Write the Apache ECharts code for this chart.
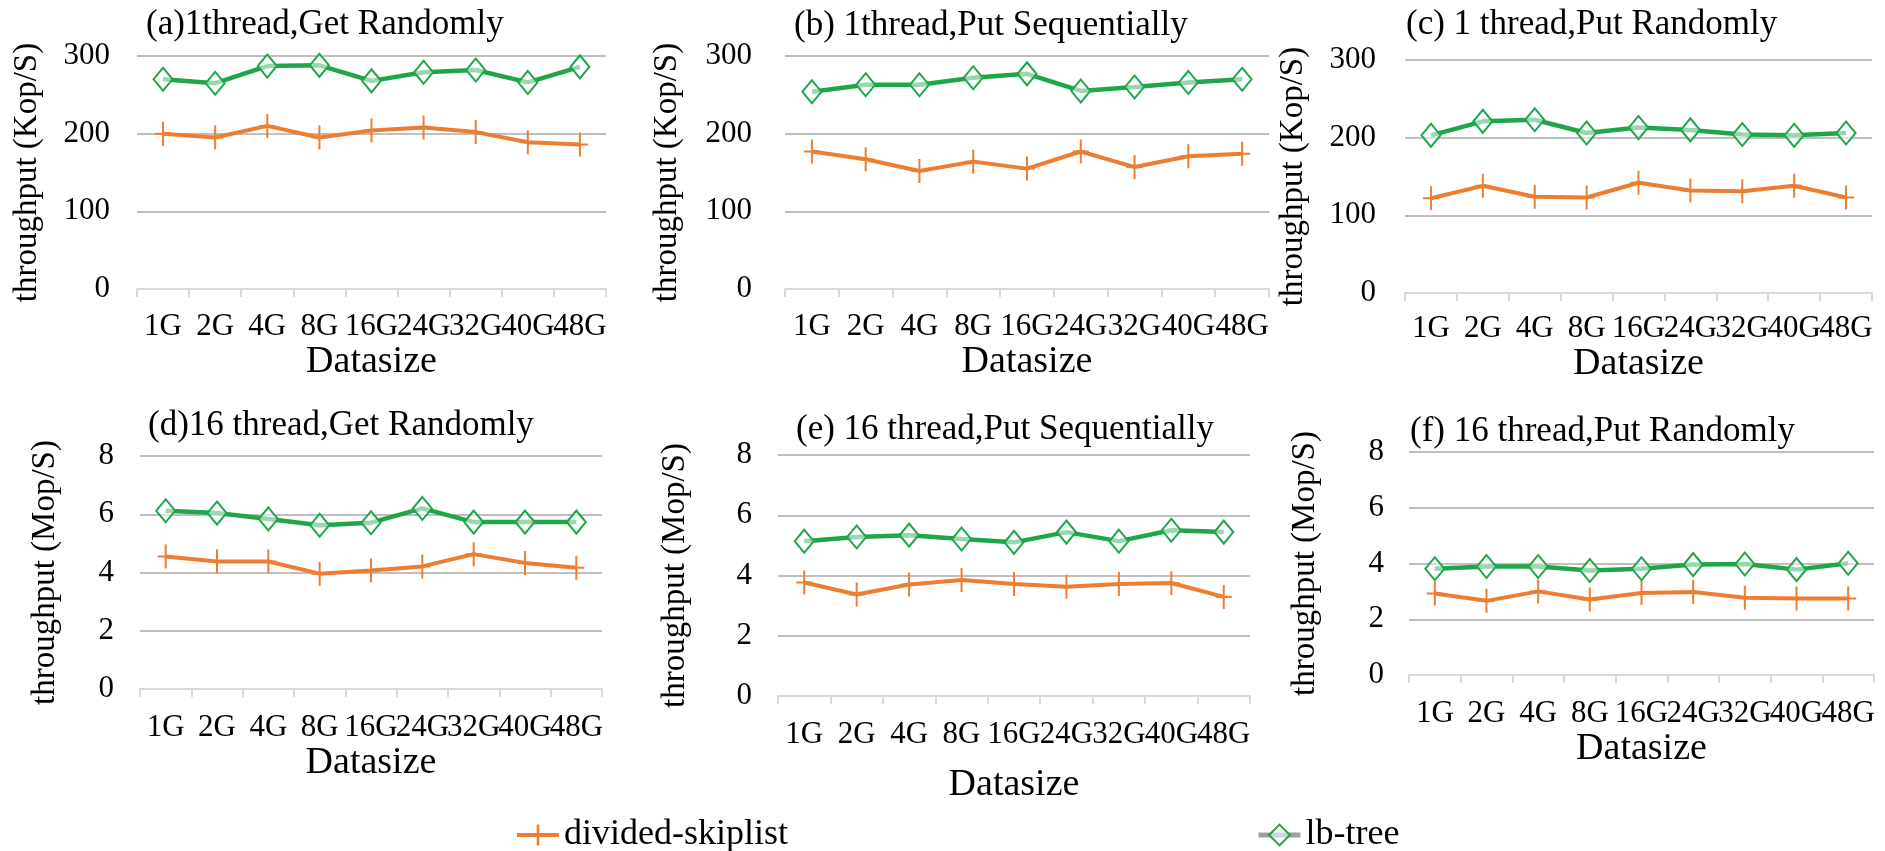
<!DOCTYPE html>
<html><head><meta charset="utf-8">
<script src="https://cdn.jsdelivr.net/npm/echarts@6/dist/echarts.min.js"></script>
<style>html,body{margin:0;padding:0;background:#fff}#chart{width:1885px;height:851px}</style>
</head><body><div id="chart"></div>
<script>
const categories = ['1G','2G','4G','8G','16G','24G','32G','40G','48G'];
const titles = ['(a)1thread,Get Randomly','(b) 1thread,Put Sequentially','(c) 1 thread,Put Randomly',
  '(d)16 thread,Get Randomly','(e) 16 thread,Put Sequentially','(f) 16 thread,Put Randomly'];
const yNames = ['throughput (Kop/S)','throughput (Kop/S)','throughput (Kop/S)',
  'throughput (Mop/S)','throughput (Mop/S)','throughput (Mop/S)'];
const xName = 'Datasize';
const seriesNames = ['divided-skiplist','lb-tree'];
const skiplistA = [200,195,210,195,204,208,202,189,186];
const lbtreeA   = [270,265,287,288,268,279,282,266,286];
const skiplistB = [177,167,152,164,155,177,157,171,174];
const lbtreeB   = [254,263,263,272,277,255,260,266,270];
const skiplistC = [122,138,124,123,142,132,131,138,123];
const lbtreeC   = [203,221,223,206,213,210,204,203,206];
const skiplistD = [4.55,4.38,4.38,3.96,4.07,4.21,4.63,4.33,4.16];
const lbtreeD   = [6.12,6.04,5.84,5.62,5.71,6.20,5.73,5.73,5.73];
const skiplistE = [3.77,3.37,3.70,3.85,3.72,3.63,3.72,3.75,3.29];
const lbtreeE   = [5.14,5.28,5.34,5.21,5.10,5.44,5.14,5.50,5.44];
const skiplistF = [2.92,2.66,3.00,2.71,2.94,2.98,2.77,2.74,2.74];
const lbtreeF   = [3.81,3.89,3.89,3.75,3.81,3.96,3.98,3.78,4.01];
const yMax = [300,300,300,8,8,8];
const yInterval = [100,100,100,2,2,2];

const skData = [skiplistA,skiplistB,skiplistC,skiplistD,skiplistE,skiplistF];
const lbData = [lbtreeA,lbtreeB,lbtreeC,lbtreeD,lbtreeE,lbtreeF];

// layout (pixels)
const layout = [
  {l:137, r:606,  t:56,  b:289, tx:146,  ty:7,   lm:27, ng:93, xm:22, xg:46},
  {l:785, r:1269, t:56,  b:289, tx:794,  ty:8,   lm:33, ng:101, xm:22, xg:50},
  {l:1405,r:1872, t:60,  b:293, tx:1406, ty:7,   lm:29, ng:95, xm:20, xg:46},
  {l:140, r:602,  t:456, b:689, tx:148,  ty:408, lm:26, ng:78, xm:23, xg:44},
  {l:778, r:1250, t:455, b:696, tx:796,  ty:412, lm:26, ng:86, xm:23, xg:70},
  {l:1409,r:1874, t:452, b:675, tx:1410, ty:414, lm:25, ng:87, xm:23, xg:41}
];

const FONT = 'Liberation Serif';
const ORANGE = '#ed7d31';
const GREEN = '#1fa64a';
const plusPath = 'path://M-1,-12L1,-12L1,-1L8,-1L8,1L1,1L1,12L-1,12L-1,1L-8,1L-8,-1L-1,-1Z';

const option = {
  backgroundColor: '#ffffff',
  animation: false,
  textStyle: {fontFamily: FONT, color: '#000'},
  title: [], grid: [], xAxis: [], yAxis: [], series: [],
  legend: {
    left: 510, top: 812, itemGap: 468, itemWidth: 42, itemHeight: 26,
    textStyle: {fontFamily: FONT, fontSize: 36, color: '#000'},
    data: [
      {name: seriesNames[0], lineStyle: {color: ORANGE, width: 4}},
      {name: seriesNames[1], lineStyle: {color: '#a0a0a0', width: 5}}
    ]
  }
};

layout.forEach((p, i) => {
  option.title.push({
    text: titles[i], left: p.tx, top: p.ty, padding: 0,
    textStyle: {fontFamily: FONT, fontSize: 35, fontWeight: 'normal', color: '#000'}
  });
  option.grid.push({left: p.l, top: p.t, width: p.r - p.l, height: p.b - p.t, containLabel: false});
  option.xAxis.push({
    type: 'category', gridIndex: i, data: categories, boundaryGap: true,
    name: xName, nameLocation: 'middle', nameGap: p.xg,
    nameTextStyle: {fontFamily: FONT, fontSize: 38, color: '#000'},
    axisLine: {show: true, lineStyle: {color: '#d9d9d9', width: 2}},
    axisTick: {show: true, interval: 0, length: 8, lineStyle: {color: '#d9d9d9', width: 2}},
    axisLabel: {interval: 0, margin: p.xm, fontFamily: FONT, fontSize: 31, color: '#000'},
    splitLine: {show: false}
  });
  option.yAxis.push({
    type: 'value', gridIndex: i, min: 0, max: yMax[i], interval: yInterval[i],
    name: yNames[i], nameLocation: 'middle', nameGap: p.ng, nameRotate: 90,
    nameTextStyle: {fontFamily: FONT, fontSize: 33, color: '#000'},
    axisLine: {show: false}, axisTick: {show: false},
    axisLabel: {margin: p.lm, fontFamily: FONT, fontSize: 31, color: '#000'},
    splitLine: {show: true, lineStyle: {color: '#bfbfbf', width: 2}}
  });
  option.series.push({
    name: seriesNames[0], type: 'line', xAxisIndex: i, yAxisIndex: i, data: skData[i],
    symbol: plusPath, symbolSize: [16, 24], showAllSymbol: true,
    lineStyle: {color: ORANGE, width: 4}, itemStyle: {color: ORANGE}, z: 2
  });
  option.series.push({
    name: seriesNames[1], type: 'line', xAxisIndex: i, yAxisIndex: i, data: lbData[i],
    symbol: 'diamond', symbolSize: [19, 23], showAllSymbol: true,
    lineStyle: {color: GREEN, width: 4.5},
    itemStyle: {color: 'rgba(255,255,255,0.55)', borderColor: GREEN, borderWidth: 2}, z: 3
  });
});

const chart = echarts.init(document.getElementById('chart'));
chart.setOption(option);
</script></body></html>
